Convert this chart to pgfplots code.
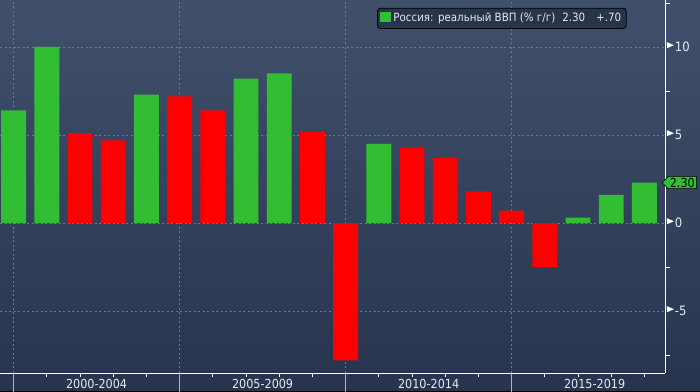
\documentclass[border=0pt]{standalone}
\usepackage{fontspec}
\setmainfont{DejaVu Sans Condensed}
\usepackage{pgfplots}
\pgfplotsset{compat=1.18}
\usetikzlibrary{shapes.symbols}
\definecolor{bgtop}{RGB}{64,80,107}
\definecolor{bgbot}{RGB}{40,52,78}
\definecolor{bbgreen}{RGB}{50,190,50}
\definecolor{bbred}{RGB}{255,0,0}
\definecolor{gridc}{RGB}{100,122,152}
\definecolor{txt}{RGB}{228,232,240}
\definecolor{legfill}{RGB}{40,52,76}
\definecolor{sepc}{RGB}{170,180,196}
\newcommand{\tri}{\tikz[baseline={(0,-3.5bp)}]\fill[white] (0,0)--(0,6bp)--(7bp,3bp)--cycle;}
\begin{document}
\begin{tikzpicture}
\path[use as bounding box] (0,0) rectangle (700bp,392bp);
\shade[top color=bgtop, bottom color=bgbot] (0,0) rectangle (700bp,392bp);
\fill[black] (0,0) rectangle (700bp,1.2bp);
\begin{axis}[
  at={(0bp,19bp)}, anchor=south west,
  scale only axis, width=665bp, height=373bp,
  xmin=-0.41, xmax=19.62, ymin=-8.52, ymax=12.67,
  axis x line*=bottom, axis y line*=right,
  axis line style={white, line width=0.9bp},
  tick align=outside,
  /pgf/number format/assume math mode=true,
  xtick={0,5,10,15}, xticklabels={},
  minor xtick={1,2,3,4,6,7,8,9,11,12,13,14,16,17,18,19},
  xtick style={/pgfplots/major tick length=19bp, draw=sepc, line width=0.8bp},
  minor x tick style={/pgfplots/minor tick length=4bp, draw=white, line width=0.8bp},
  ytick={-5,0,5,10},
  yticklabel={\tri\hspace{1bp}{\fontsize{13}{15}\selectfont\pgfmathprintnumber{\tick}}},
  yticklabel style={text=txt, xshift=-3.5bp, inner sep=1bp},
  ytick style={/pgfplots/major tick length=0bp, draw=none},
  minor ytick={-7.5,-2.5,2.5,7.5,12.5},
  minor y tick style={/pgfplots/minor tick length=5bp, draw=white, line width=0.8bp},
  xmajorgrids, ymajorgrids,
  grid style={gridc, dash pattern=on 2bp off 2.5bp, line width=0.7bp},
  extra x ticks={2.5,7.5,12.5,17.5},
  extra x tick labels={2000-2004,2005-2009,2010-2014,2015-2019},
  extra x tick style={grid=none, xtick style={draw=none},
    xticklabel style={font=\fontsize{12.5}{14}\selectfont, text=txt, anchor=north, yshift=2bp}},
  extra y ticks={2.3},
  extra y tick style={grid=none, ytick style={draw=none},
    yticklabel={{\fontsize{12.5}{14}\selectfont\pgfmathprintnumber[fixed,fixed zerofill,precision=2]{\tick}}},
    yticklabel style={text=black, fill=bbgreen, draw=black, line width=0.5bp,
      shape=signal, signal to=west, inner xsep=1.5bp, inner ysep=1.5bp, xshift=-4bp}},
  legend style={at={(axis description cs:0.567,0.979)}, anchor=north west,
    fill=legfill, draw=black, line width=0.8bp, rounded corners=3bp, text=txt,
    font=\fontsize{11.5}{13}\selectfont, inner xsep=3bp, inner ysep=3bp},
  legend cell align=left,
]
\addplot[ybar, bar width=0.75, bar shift=0pt, fill=bbgreen, draw=none,
  legend image code/.code={\fill[bbgreen, sharp corners] (0bp,-4bp) rectangle (11bp,6bp);}]
  coordinates {(0,6.4) (1,10.0) (4,7.3) (7,8.2) (8,8.5) (11,4.5) (17,0.3) (18,1.6) (19,2.3)};
\addlegendentry{Россия: реальный ВВП (\% г/г)\hspace{7bp}2.30\hspace{11bp}+.70}
\addplot[ybar, bar width=0.75, bar shift=0pt, fill=bbred, draw=none, forget plot]
  coordinates {(2,5.1) (3,4.7) (5,7.2) (6,6.4) (9,5.2) (10,-7.8) (12,4.3) (13,3.7) (14,1.8) (15,0.7) (16,-2.5)};
\end{axis}
\end{tikzpicture}
\end{document}
